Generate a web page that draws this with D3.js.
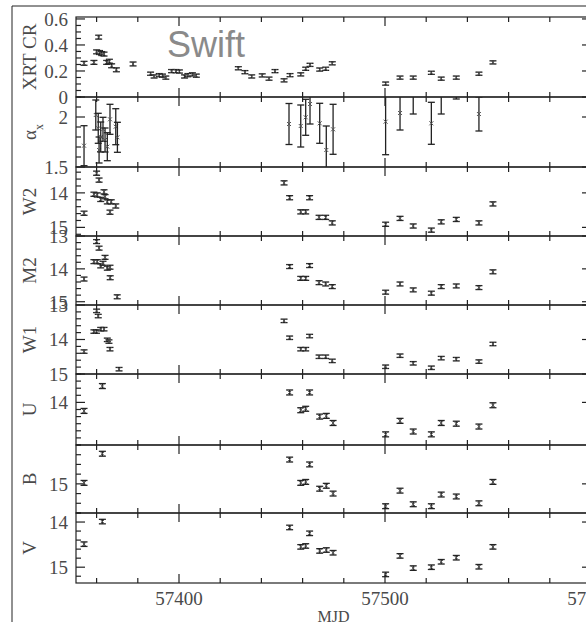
<!DOCTYPE html>
<html>
<head>
<meta charset="utf-8">
<script src="https://cdn.jsdelivr.net/npm/d3@7"></script>
<style>
	body { margin: 0; background: #fff; }
	svg text { font-family: "Liberation Serif", "DejaVu Serif", serif; fill: #4a4a4a; }
</style>
</head>
<body>
<svg id="chart" width="586" height="624"></svg>
<script>
// [MJD, value, error]
const xrtData = [
	[57353.9, 0.259, 0.015], [57358.7, 0.266, 0.015], [57360.0, 0.347, 0.015], [57361.0, 0.460, 0.015],
	[57361.4, 0.342, 0.015], [57362.5, 0.334, 0.015], [57363.6, 0.330, 0.015], [57364.9, 0.266, 0.015],
	[57366.2, 0.275, 0.015], [57367.3, 0.240, 0.015], [57369.6, 0.209, 0.015], [57377.7, 0.254, 0.015],
	[57386.2, 0.179, 0.012], [57387.9, 0.158, 0.012], [57390.4, 0.168, 0.012], [57392.0, 0.164, 0.012],
	[57393.6, 0.149, 0.012], [57396.4, 0.199, 0.012], [57398.5, 0.199, 0.012], [57400.2, 0.196, 0.012],
	[57402.7, 0.158, 0.012], [57404.3, 0.168, 0.012], [57406.5, 0.174, 0.012], [57408.4, 0.164, 0.012],
	[57428.8, 0.221, 0.012], [57432.0, 0.191, 0.012], [57435.3, 0.158, 0.012], [57440.4, 0.166, 0.012],
	[57443.7, 0.141, 0.012], [57446.6, 0.199, 0.012], [57451.0, 0.128, 0.012], [57453.9, 0.168, 0.012],
	[57459.1, 0.174, 0.012], [57461.5, 0.217, 0.012], [57463.6, 0.247, 0.012], [57468.3, 0.211, 0.012],
	[57471.2, 0.217, 0.012], [57474.4, 0.259, 0.012], [57500.3, 0.103, 0.012], [57507.3, 0.149, 0.012],
	[57513.7, 0.149, 0.012], [57522.5, 0.186, 0.012], [57527.3, 0.141, 0.012], [57534.6, 0.149, 0.012],
	[57545.6, 0.179, 0.012], [57552.4, 0.266, 0.012]
];
const alphaData = [
	[57353.9, 1.713, 0.20], [57359.6, 2.020, 0.15], [57360.8, 1.887, 0.15], [57361.2, 1.670, 0.13],
	[57362.0, 1.800, 0.15], [57363.1, 1.877, 0.12], [57364.1, 1.770, 0.12], [57365.2, 1.703, 0.14],
	[57366.5, 1.977, 0.15], [57369.3, 1.903, 0.18], [57370.1, 1.797, 0.15],
	[57453.4, 1.930, 0.205], [57459.1, 1.910, 0.21], [57461.5, 1.997, 0.18], [57463.6, 2.130, 0.20],
	[57468.3, 1.937, 0.20], [57471.5, 1.670, 0.24], [57474.8, 1.877, 0.25],
	[57500.3, 1.953, 0.33], [57507.3, 2.040, 0.17], [57513.7, 2.250, 0.22], [57522.5, 1.937, 0.21],
	[57527.3, 2.250, 0.22], [57534.6, 2.420, 0.24], [57545.6, 2.030, 0.17]
];
const w2Data = [
	[57353.9, 14.59, 0.06], [57358.7, 14.04, 0.06], [57360.0, 13.43, 0.06], [57360.3, 14.06, 0.06],
	[57361.2, 13.63, 0.06], [57362.0, 14.19, 0.06], [57363.6, 13.97, 0.06], [57364.1, 14.11, 0.06],
	[57365.2, 14.26, 0.06], [57366.5, 14.56, 0.06], [57367.1, 14.26, 0.06], [57369.3, 14.38, 0.06],
	[57451.0, 13.71, 0.06], [57453.7, 14.14, 0.06], [57459.1, 14.55, 0.06], [57461.5, 14.55, 0.06],
	[57463.4, 14.14, 0.06], [57468.0, 14.71, 0.06], [57471.2, 14.71, 0.06], [57474.4, 14.87, 0.06],
	[57500.3, 14.91, 0.06], [57507.3, 14.74, 0.06], [57513.7, 14.96, 0.06], [57522.5, 15.08, 0.06],
	[57527.3, 14.84, 0.06], [57534.6, 14.77, 0.06], [57545.6, 14.87, 0.06], [57552.4, 14.32, 0.06]
];
const m2Data = [
	[57353.9, 14.31, 0.06], [57358.7, 13.78, 0.06], [57360.0, 13.17, 0.06], [57360.3, 13.78, 0.06],
	[57361.2, 13.37, 0.06], [57362.0, 13.91, 0.06], [57363.1, 13.83, 0.06], [57364.1, 13.65, 0.06],
	[57365.2, 13.98, 0.06], [57366.5, 13.95, 0.06], [57366.6, 14.27, 0.06], [57370.0, 14.85, 0.06],
	[57453.7, 13.93, 0.06], [57459.1, 14.29, 0.06], [57461.5, 14.29, 0.06], [57463.4, 13.90, 0.06],
	[57468.0, 14.42, 0.06], [57471.2, 14.46, 0.06], [57474.4, 14.54, 0.06], [57500.3, 14.71, 0.06],
	[57507.3, 14.46, 0.06], [57513.7, 14.64, 0.06], [57522.5, 14.74, 0.06], [57527.3, 14.54, 0.06],
	[57534.6, 14.52, 0.06], [57545.6, 14.57, 0.06], [57552.4, 14.09, 0.06]
];
const w1Data = [
	[57353.9, 14.35, 0.05], [57358.7, 13.77, 0.05], [57359.9, 13.77, 0.05], [57360.0, 13.17, 0.05],
	[57360.8, 13.32, 0.05], [57362.0, 13.70, 0.05], [57363.6, 13.70, 0.05], [57365.2, 14.01, 0.05],
	[57366.0, 14.06, 0.05], [57366.5, 14.28, 0.05], [57370.9, 14.86, 0.05],
	[57451.0, 13.46, 0.05], [57453.7, 13.95, 0.05], [57459.1, 14.28, 0.05], [57461.5, 14.28, 0.05],
	[57463.4, 13.90, 0.05], [57468.0, 14.50, 0.05], [57471.2, 14.50, 0.05], [57474.4, 14.62, 0.05],
	[57500.3, 14.79, 0.05], [57507.3, 14.47, 0.05], [57513.7, 14.69, 0.05], [57522.5, 14.82, 0.05],
	[57527.3, 14.54, 0.05], [57534.6, 14.57, 0.05], [57545.6, 14.64, 0.05], [57552.4, 14.13, 0.05]
];
const uData = [
	[57353.9, 14.12, 0.035], [57362.8, 13.77, 0.035], [57453.7, 13.86, 0.035], [57459.1, 14.11, 0.035],
	[57461.5, 14.09, 0.035], [57463.4, 13.86, 0.035], [57468.3, 14.20, 0.035], [57471.5, 14.19, 0.035],
	[57474.8, 14.29, 0.035], [57500.3, 14.45, 0.035], [57507.3, 14.26, 0.035], [57513.7, 14.41, 0.035],
	[57522.5, 14.45, 0.035], [57527.3, 14.29, 0.035], [57534.6, 14.30, 0.035], [57545.6, 14.34, 0.035],
	[57552.4, 14.04, 0.035]
];
const bData = [
	[57353.9, 14.99, 0.025], [57362.8, 14.69, 0.025], [57453.7, 14.75, 0.025], [57459.1, 14.99, 0.025],
	[57461.5, 14.98, 0.025], [57463.4, 14.80, 0.025], [57468.3, 15.05, 0.025], [57471.5, 15.02, 0.025],
	[57474.8, 15.10, 0.025], [57500.3, 15.23, 0.025], [57507.3, 15.07, 0.025], [57513.7, 15.21, 0.025],
	[57522.5, 15.23, 0.025], [57527.3, 15.11, 0.025], [57534.6, 15.13, 0.025], [57545.6, 15.20, 0.025],
	[57552.4, 14.98, 0.025]
];
const vData = [
	[57353.9, 14.49, 0.05], [57362.8, 13.99, 0.05], [57453.7, 14.12, 0.05], [57459.1, 14.55, 0.05],
	[57461.5, 14.53, 0.05], [57463.4, 14.25, 0.05], [57468.3, 14.64, 0.05], [57471.5, 14.62, 0.05],
	[57474.8, 14.68, 0.05], [57500.3, 15.16, 0.05], [57507.3, 14.75, 0.05], [57513.7, 15.02, 0.05],
	[57522.5, 15.00, 0.05], [57527.3, 14.88, 0.05], [57534.6, 14.79, 0.05], [57545.6, 14.99, 0.05],
	[57552.4, 14.55, 0.05]
];
const xTickMajor = [57400, 57500, 57600];

const svg = d3.select('#chart');
const left = 76, right = 591;

// domains are [value at top, value at bottom]
const panels = [
	{ label: 'XRT CR', data: xrtData, domain: [0.615, 0], top: 17, bottom: 97, major: 0.2, minor: 0.05 },
	{ label: 'alpha', data: alphaData, domain: [2.2, 1.5], top: 97, bottom: 167, major: 0.5, minor: 0.1 },
	{ label: 'W2', data: w2Data, domain: [13.25, 15.25], top: 167, bottom: 236, major: 1, minor: 0.2 },
	{ label: 'M2', data: m2Data, domain: [13, 15.1], top: 236, bottom: 305, major: 1, minor: 0.2 },
	{ label: 'W1', data: w1Data, domain: [13, 15], top: 305, bottom: 374, major: 1, minor: 0.2 },
	{ label: 'U', data: uData, domain: [13.6, 14.6], top: 374, bottom: 445, major: 1, minor: 0.1 },
	{ label: 'B', data: bData, domain: [14.6, 15.3], top: 445, bottom: 513, major: 1, minor: 0.1 },
	{ label: 'V', data: vData, domain: [13.8, 15.35], top: 513, bottom: 583, major: 1, minor: 0.2 }
];

const x = d3.scaleLinear().domain([57350, 57600]).range([left, right]);
const fmt = d3.format('~g');
const ink = '#222';

// outer frame
svg.append('path')
	.attr('d', 'M12,622 V6 H586')
	.attr('fill', 'none').attr('stroke', ink).attr('stroke-width', 1);

// Swift
svg.append('text')
	.attr('x', 167).attr('y', 57)
	.style('font-family', '"Liberation Sans", Arial, sans-serif')
	.style('font-size', '36px').style('fill', '#8a8a8a')
	.text('Swift');

panels.forEach(function(p, i) {
	const y = d3.scaleLinear().domain(p.domain).range([p.top, p.bottom]);
	const g = svg.append('g');
	const lo = Math.min(p.domain[0], p.domain[1]);
	const hi = Math.max(p.domain[0], p.domain[1]);

	// clip
	const clipId = 'clip' + i;
	svg.append('clipPath').attr('id', clipId)
		.append('rect')
		.attr('x', left).attr('y', p.top)
		.attr('width', right - left).attr('height', p.bottom - p.top);

	// frame
	g.append('rect')
		.attr('x', left).attr('y', p.top)
		.attr('width', right - left).attr('height', p.bottom - p.top)
		.attr('fill', 'none').attr('stroke', ink).attr('stroke-width', 1.2);

	// x ticks, top and bottom, inward
	const xTicks = d3.range(57360, 57601, 20);
	xTicks.forEach(function(t) {
		const len = xTickMajor.indexOf(t) >= 0 ? 9 : 5;
		g.append('line')
			.attr('x1', x(t)).attr('x2', x(t))
			.attr('y1', p.top).attr('y2', p.top + len)
			.attr('stroke', ink).attr('stroke-width', 1.2);
		g.append('line')
			.attr('x1', x(t)).attr('x2', x(t))
			.attr('y1', p.bottom).attr('y2', p.bottom - len)
			.attr('stroke', ink).attr('stroke-width', 1.2);
	});

	// y ticks, left and right
	const start = Math.ceil(lo / p.minor - 1e-6);
	const stop = Math.floor(hi / p.minor + 1e-6);
	d3.range(start, stop + 1).forEach(function(k) {
		const v = k * p.minor;
		const isMajor = Math.abs(v / p.major - Math.round(v / p.major)) < 1e-6;
		const len = isMajor ? 9 : 5;
		const yy = y(v);
		g.append('line')
			.attr('x1', left).attr('x2', left + len)
			.attr('y1', yy).attr('y2', yy)
			.attr('stroke', ink).attr('stroke-width', 1.2);
		g.append('line')
			.attr('x1', right).attr('x2', right - len)
			.attr('y1', yy).attr('y2', yy)
			.attr('stroke', ink).attr('stroke-width', 1.2);
		if (isMajor) {
			g.append('text')
				.attr('x', 68).attr('y', yy)
				.attr('dy', '0.36em')
				.attr('text-anchor', 'end')
				.style('font-size', '19px')
				.text(fmt(Math.round(v / p.major) * p.major));
		}
	});

	// axis label
	const ly = (p.top + p.bottom) / 2;
	const lab = g.append('text')
		.attr('transform', 'translate(36,' + ly + ') rotate(-90)')
		.attr('text-anchor', 'middle')
		.style('font-size', '19px');
	if (p.label === 'alpha') {
		lab.append('tspan').text('\u03b1');
		lab.append('tspan').attr('baseline-shift', 'sub').style('font-size', '12px').text('x');
	} else {
		lab.text(p.label);
	}

	// error bars
	const pts = g.append('g').attr('clip-path', 'url(#' + clipId + ')');
	p.data.forEach(function(d) {
		const cx = x(d[0]);
		const y1 = y(d[1] - d[2]), y2 = y(d[1] + d[2]);
		pts.append('line')
			.attr('x1', cx).attr('x2', cx).attr('y1', y1).attr('y2', y2)
			.attr('stroke', ink).attr('stroke-width', 1.3);
		[y1, y2].forEach(function(cy) {
			pts.append('line')
				.attr('x1', cx - 3.5).attr('x2', cx + 3.5).attr('y1', cy).attr('y2', cy)
				.attr('stroke', ink).attr('stroke-width', 1.3);
		});
		const cy = y(d[1]);
		pts.append('path')
			.attr('d', 'M' + (cx - 2) + ',' + (cy - 2) + 'L' + (cx + 2) + ',' + (cy + 2) +
				'M' + (cx - 2) + ',' + (cy + 2) + 'L' + (cx + 2) + ',' + (cy - 2))
			.attr('stroke', '#555').attr('stroke-width', 1);
	});
});

// bottom labels
const last = panels[panels.length - 1];
xTickMajor.forEach(function(t) {
	svg.append('text')
		.attr('x', x(t)).attr('y', last.bottom + 22)
		.attr('text-anchor', 'middle')
		.style('font-size', '19px')
		.text(t);
});
svg.append('text')
	.attr('x', (left + right) / 2).attr('y', 622)
	.attr('text-anchor', 'middle')
	.style('font-size', '16px')
	.text('MJD');
</script>
</body>
</html>
